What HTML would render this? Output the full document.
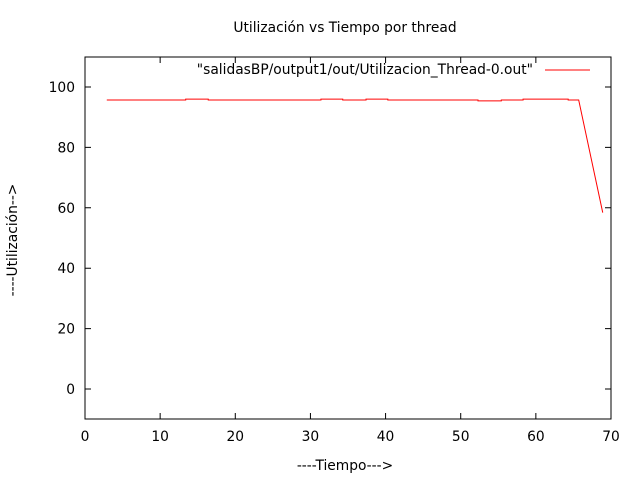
<!DOCTYPE html>
<html><head><meta charset="utf-8"><style>
body{margin:0;background:#fff}
svg text{font-family:"DejaVu Sans",sans-serif;font-size:13.8px;fill:#000}
</style></head><body>
<svg width="640" height="480">
<text x="345" y="32" text-anchor="middle">Utilización vs Tiempo por thread</text>
<rect x="85" y="57" width="526" height="362" fill="none" stroke="#000" stroke-width="1"/>
<g id="axes"></g>
<text x="345" y="470" text-anchor="middle">----Tiempo---></text>
<text transform="translate(17,240) rotate(-90)" text-anchor="middle">----Utilización--></text>
<text x="533" y="74" text-anchor="end">"salidasBP/output1/out/Utilizacion_Thread-0.out"</text>
<line x1="545" y1="70" x2="590" y2="70" stroke="#f00" stroke-width="1"/>
<polyline id="series" fill="none" stroke="#f00" stroke-width="1"/>
</svg>
<script>
const xTicks=[0,10,20,30,40,50,60,70];
const yTicks=[0,20,40,60,80,100];
const xs=[2.9,13.4,13.4,16.4,16.4,31.4,31.4,34.3,34.3,37.4,37.4,40.3,40.3,52.3,52.3,55.4,55.4,58.3,58.3,64.3,64.3,65.7,68.9];
const ys=[95.7,95.7,96.0,96.0,95.7,95.7,96.0,96.0,95.7,95.7,96.0,96.0,95.7,95.7,95.4,95.4,95.7,95.7,96.0,96.0,95.7,95.7,58.4];
const X=v=>85+v*526/70;
const Y=v=>389-v*3.02;
const ns="http://www.w3.org/2000/svg";
const g=document.getElementById('axes');
function mk(t,a){const e=document.createElementNS(ns,t);for(const k in a)e.setAttribute(k,a[k]);return e;}
xTicks.forEach(v=>{
 const l=mk('path',{d:`M${X(v)},419v-6M${X(v)},57v6`,stroke:'#000'});
 
 
 g.appendChild(l);
 const t=mk('text',{x:X(v),y:441,'text-anchor':'middle'});t.textContent=v;
 
 
 g.appendChild(t);
});
yTicks.forEach(v=>{
 const l=mk('path',{d:`M85,${Y(v)}h6M611,${Y(v)}h-6`,stroke:'#000'});
 
 
 g.appendChild(l);
 const t=mk('text',{x:75,y:Y(v)+5,'text-anchor':'end'});t.textContent=v;
 
 
 g.appendChild(t);
});
document.getElementById('series').setAttribute('points',xs.map((x,i)=>X(x)+','+Y(ys[i])).join(' '));
</script>
</body></html>
